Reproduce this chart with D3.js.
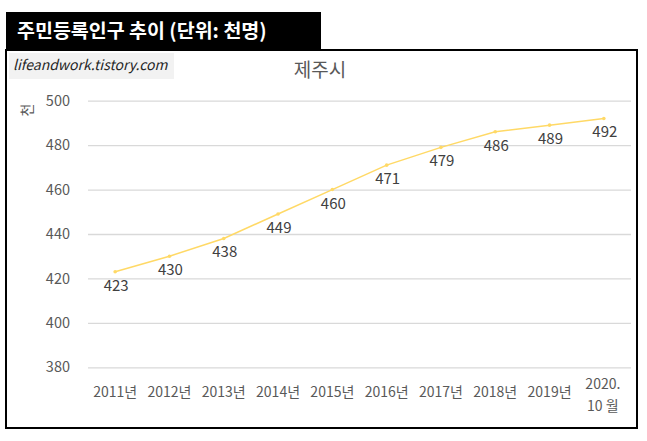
<!DOCTYPE html>
<html>
<head>
<meta charset="utf-8">
<script src="https://cdn.jsdelivr.net/npm/d3@7"></script>
<style>
  body { margin: 0; background: #fff; }
  svg { display: block; }
  .tick text { font-family: "Noto Sans CJK KR", "Noto Sans", sans-serif; }
</style>
</head>
<body>
<svg id="chart" width="647" height="441"></svg>
<script>
// data
var categories = ["2011년", "2012년", "2013년", "2014년", "2015년", "2016년", "2017년", "2018년", "2019년", "2020.|10 월"];
var population = [423, 430, 438, 449, 460, 471, 479, 486, 489, 492];
var yTicks = [380, 400, 420, 440, 460, 480, 500];

var font = '"Noto Sans CJK KR", "Noto Sans", sans-serif',
    textGray = "#595959",
    lineColor = "#ffd966";

var svg = d3.select("#chart");

var plot = {left: 88, right: 631, top: 100.7, bottom: 367.3};

var x = d3.scaleBand()
    .domain(categories)
    .range([plot.left, plot.right]);

var y = d3.scaleLinear()
    .domain([380, 500])
    .range([plot.bottom, plot.top]);

/* frame */
svg.append("rect")
    .attr("x", 6).attr("y", 50)
    .attr("width", 631).attr("height", 378)
    .attr("fill", "white")
    .attr("stroke", "black")
    .attr("stroke-width", 2);

// title box
svg.append("rect")
    .attr("x", 6).attr("y", 12)
    .attr("width", 315).attr("height", 38)
    .attr("fill", "black");

svg.append("text")
    .attr("x", 17).attr("y", 38)
    .attr("fill", "white")
    .attr("font-family", font)
    .attr("font-weight", "bold")
    .attr("font-size", 19.5)
    .text("주민등록인구 추이 (단위: 천명)");

// watermark
svg.append("rect")
    .attr("x", 9).attr("y", 53)
    .attr("width", 165).attr("height", 26)
    .attr("fill", "#f2f2f2");

svg.append("text")
    .attr("x", 13).attr("y", 70)
    .attr("fill", "#262626")
    .attr("font-family", font)
    .attr("font-style", "italic")
    .attr("font-size", 14)
    .text("lifeandwork.tistory.com");

// chart title
svg.append("text")
    .attr("x", 320).attr("y", 77)
    .attr("text-anchor", "middle")
    .attr("fill", textGray)
    .attr("font-family", font)
    .attr("font-size", 19)
    .text("제주시");

// y unit label
svg.append("text")
    .attr("transform", "translate(32,110) rotate(-90)")
    .attr("text-anchor", "middle")
    .attr("fill", textGray)
    .attr("font-family", font)
    .attr("font-size", 14)
    .text("천");

/* grid + y axis */
var yAxis = svg.append("g")
    .attr("transform", "translate(" + plot.left + ",0)")
    .call(d3.axisLeft(y)
        .tickValues(yTicks)
        .tickSize(-(plot.right - plot.left))
        .tickPadding(18));

yAxis.select(".domain").remove();
yAxis.selectAll(".tick line")
    .attr("stroke", "#d9d9d9")
    .attr("stroke-width", 1.3);
yAxis.selectAll(".tick text")
    .attr("fill", textGray)
    .attr("font-size", 14.5);

/* x axis labels */
var xAxis = svg.append("g")
    .attr("transform", "translate(0," + plot.bottom + ")")
    .call(d3.axisBottom(x).tickSize(0).tickFormat(""));

xAxis.select(".domain").remove();
xAxis.selectAll(".tick").each(function (d) {
    var lines = d.split("|");
    var t = d3.select(this).select("text")
        .attr("fill", textGray)
        .attr("font-size", 14)
        .attr("y", 0)
        .attr("dy", null);
    lines.forEach(function (l, i) {
        t.append("tspan")
            .attr("x", lines.length > 1 ? -1 : 0)
            .attr("y", lines.length > 1 ? 22 + i * 22 : 30)
            .attr("font-size", 14)
            .text(l);
    });
});

/* line */
var line = d3.line()
    .x(function (d, i) { return x(categories[i]) + x.bandwidth() / 2; })
    .y(function (d) { return y(d); });

svg.append("path")
    .datum(population)
    .attr("fill", "none")
    .attr("stroke", lineColor)
    .attr("stroke-width", 1.5)
    .attr("d", line);

svg.append("g").selectAll("circle")
    .data(population)
    .enter()
    .append("circle")
    .attr("cx", function (d, i) { return x(categories[i]) + x.bandwidth() / 2; })
    .attr("cy", function (d) { return y(d); })
    .attr("r", 1.8)
    .attr("fill", lineColor);

// data labels, below the points
svg.append("g").selectAll("text")
    .data(population)
    .enter()
    .append("text")
    .attr("x", function (d, i) { return x(categories[i]) + x.bandwidth() / 2 + 1; })
    .attr("y", function (d) { return y(d) + 19; })
    .attr("text-anchor", "middle")
    .attr("fill", "#404040")
    .attr("font-family", font)
    .attr("font-size", 15)
    .text(function (d) { return d; });
</script>
</body>
</html>
